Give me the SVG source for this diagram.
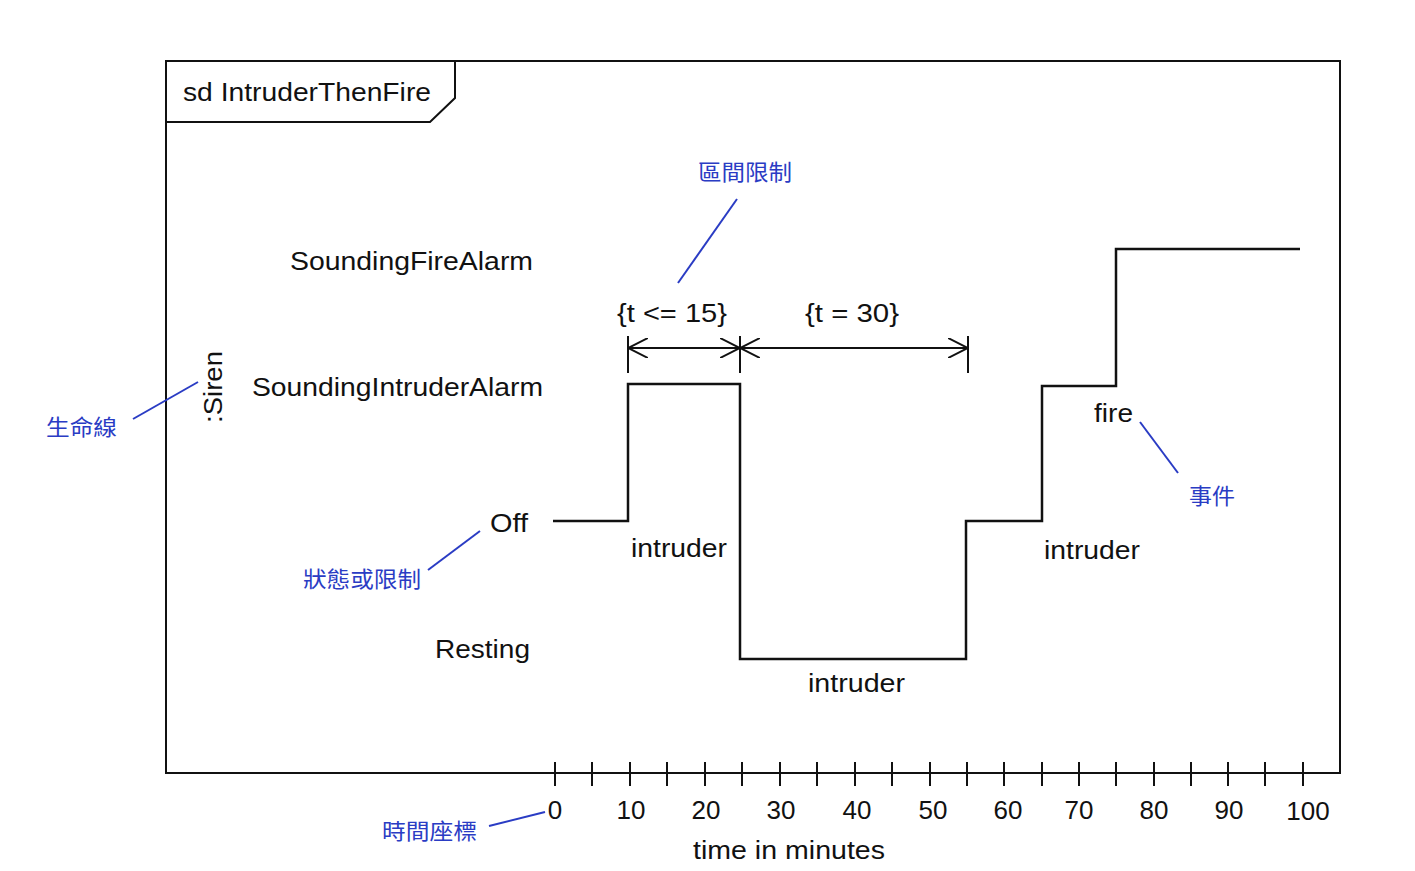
<svg xmlns="http://www.w3.org/2000/svg" width="1415" height="871" viewBox="0 0 1415 871">
<style>
.t{font-family:"Liberation Sans",Arial,sans-serif;font-size:25px;fill:#111}
.n{font-family:"Liberation Sans",Arial,sans-serif;font-size:26px;fill:#111;text-anchor:middle}
.c{font-family:"Noto Sans CJK TC","Noto Sans CJK SC",sans-serif;font-size:22px;fill:#2a3cc4}
.bl{stroke:#2a3cc4;stroke-width:2;fill:none}
.k{stroke:#111;stroke-width:2;fill:none}
.w{stroke:#111;stroke-width:2.5;fill:none}
</style>
<defs>
<marker id="ah" viewBox="0 0 20 20" refX="20" refY="10" markerWidth="20" markerHeight="20" markerUnits="userSpaceOnUse" orient="auto-start-reverse">
<path d="M0,0 L20,10 L0,20" fill="none" stroke="#111" stroke-width="2"/>
</marker>
</defs>
<rect width="1415" height="871" fill="#fff"/>
<g id="frame">
<rect x="166" y="61" width="1174" height="712" class="k"/>
<path d="M166,122 H430 L455,98 V61" class="k"/>
<text x="183" y="101" class="t" textLength="248" lengthAdjust="spacingAndGlyphs">sd IntruderThenFire</text>
</g>
<g id="lifeline">
<text transform="translate(222,423) rotate(-90)" class="t" textLength="72" lengthAdjust="spacingAndGlyphs">:Siren</text>
</g>
<g id="states">
<text x="290" y="270" class="t" textLength="243" lengthAdjust="spacingAndGlyphs">SoundingFireAlarm</text>
<text x="252" y="396" class="t" textLength="291" lengthAdjust="spacingAndGlyphs">SoundingIntruderAlarm</text>
<text x="490" y="532" class="t" textLength="38" lengthAdjust="spacingAndGlyphs">Off</text>
<text x="435" y="658" class="t" textLength="95" lengthAdjust="spacingAndGlyphs">Resting</text>
</g>
<g id="timeline">
<path d="M553,521 H628 V384 H740 V659 H966 V521 H1042 V386 H1116 V249 H1300" class="w"/>
<text x="631" y="557" class="t" textLength="96" lengthAdjust="spacingAndGlyphs">intruder</text>
<text x="808" y="692" class="t" textLength="97" lengthAdjust="spacingAndGlyphs">intruder</text>
<text x="1044" y="559" class="t" textLength="96" lengthAdjust="spacingAndGlyphs">intruder</text>
<text x="1094" y="422" class="t" textLength="39" lengthAdjust="spacingAndGlyphs">fire</text>
</g>
<g id="constraints">
<path d="M628,336 V373 M740,336 V373 M968,336 V373" class="k"/>
<line x1="628" y1="348" x2="740" y2="348" class="k" marker-start="url(#ah)" marker-end="url(#ah)"/>
<line x1="740" y1="348" x2="968" y2="348" class="k" marker-start="url(#ah)" marker-end="url(#ah)"/>
<text x="617" y="322" class="t" textLength="110" lengthAdjust="spacingAndGlyphs">{t &lt;= 15}</text>
<text x="805" y="322" class="t" textLength="94" lengthAdjust="spacingAndGlyphs">{t = 30}</text>
</g>
<g id="axis">
<line x1="166" y1="773" x2="1340" y2="773" class="k"/>
<path d="M555,762V786 M592,762V786 M630,762V786 M667,762V786 M705,762V786 M742,762V786 M780,762V786 M817,762V786 M855,762V786 M892,762V786 M930,762V786 M967,762V786 M1004,762V786 M1042,762V786 M1079,762V786 M1116,762V786 M1154,762V786 M1191,762V786 M1228,762V786 M1265,762V786 M1303,762V786" class="k"/>
<text x="555" y="819" class="n">0</text>
<text x="631" y="819" class="n">10</text>
<text x="706" y="819" class="n">20</text>
<text x="781" y="819" class="n">30</text>
<text x="857" y="819" class="n">40</text>
<text x="933" y="819" class="n">50</text>
<text x="1008" y="819" class="n">60</text>
<text x="1079" y="819" class="n">70</text>
<text x="1154" y="819" class="n">80</text>
<text x="1229" y="819" class="n">90</text>
<text x="1308" y="820" class="n">100</text>
<text x="693" y="859" class="t" textLength="192" lengthAdjust="spacingAndGlyphs">time in minutes</text>
</g>
<g id="annotations">
<text x="698" y="180" class="c" textLength="94" lengthAdjust="spacingAndGlyphs">區間限制</text>
<line x1="737" y1="199" x2="678" y2="283" class="bl"/>
<text x="46" y="435" class="c" textLength="71" lengthAdjust="spacingAndGlyphs">生命線</text>
<line x1="133" y1="419" x2="198" y2="382" class="bl"/>
<text x="303" y="587" class="c" textLength="118" lengthAdjust="spacingAndGlyphs">狀態或限制</text>
<line x1="428" y1="570" x2="480" y2="531" class="bl"/>
<text x="1189" y="504" class="c" textLength="46" lengthAdjust="spacingAndGlyphs">事件</text>
<line x1="1140" y1="422" x2="1178" y2="473" class="bl"/>
<text x="382" y="839" class="c" textLength="95" lengthAdjust="spacingAndGlyphs">時間座標</text>
<line x1="489" y1="826" x2="545" y2="812" class="bl"/>
</g>
</svg>
